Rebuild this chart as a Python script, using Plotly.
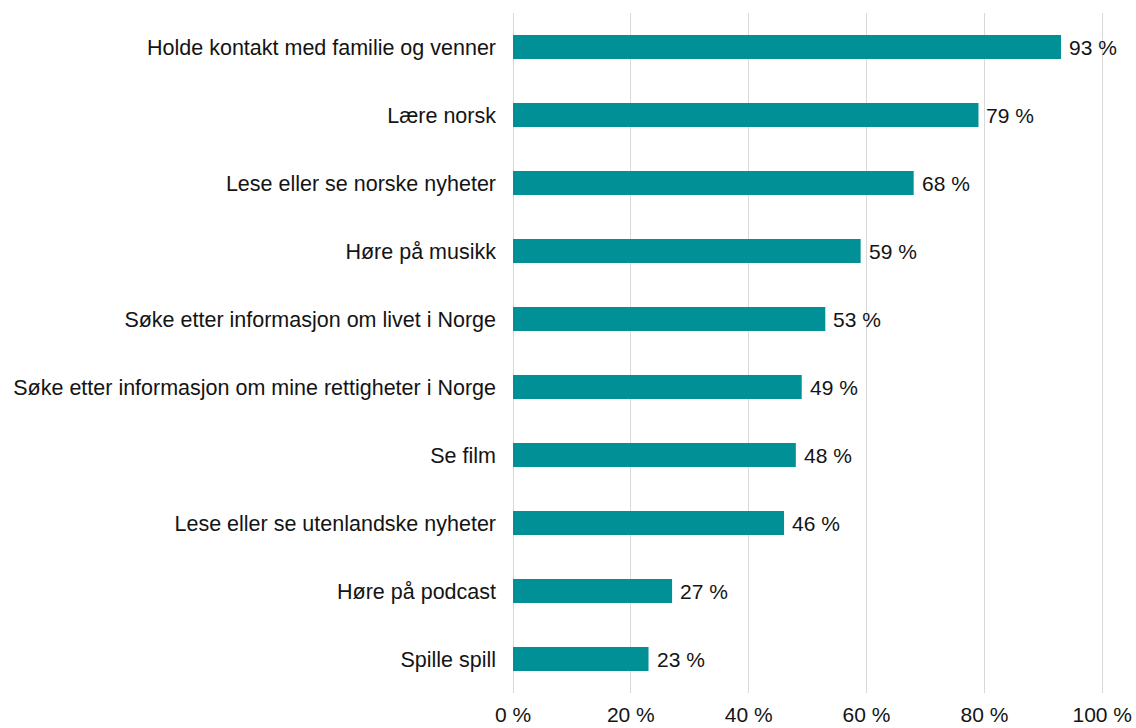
import plotly.graph_objects as go

categories = [
    "Holde kontakt med familie og venner",
    "Lære norsk",
    "Lese eller se norske nyheter",
    "Høre på musikk",
    "Søke etter informasjon om livet i Norge",
    "Søke etter informasjon om mine rettigheter i Norge",
    "Se film",
    "Lese eller se utenlandske nyheter",
    "Høre på podcast",
    "Spille spill",
]
values = [93, 79, 68, 59, 53, 49, 48, 46, 27, 23]
tick_vals = [0, 20, 40, 60, 80, 100]
tick_text = [f"{v} %" for v in tick_vals]

FONT = "Liberation Sans, Arial, Helvetica, sans-serif"
TXT = "#141414"

fig = go.Figure(
    go.Bar(
        x=values,
        y=categories,
        orientation="h",
        marker=dict(color="#009096", line=dict(width=0)),
        width=0.35,
        hoverinfo="x+y",
    )
)

for c, v in zip(categories, values):
    fig.add_annotation(
        x=v, y=c, text=f"{v} %", showarrow=False,
        xanchor="left", xshift=6,
        font=dict(size=21, color=TXT, family=FONT),
    )

fig.update_layout(
    width=1136,
    height=728,
    margin=dict(l=513, r=32, t=13, b=35),
    plot_bgcolor="white",
    paper_bgcolor="white",
    font=dict(family=FONT, size=21, color=TXT),
    showlegend=False,
    xaxis=dict(
        range=[0, 100.3],
        tickvals=tick_vals,
        ticktext=tick_text,
        showgrid=True,
        gridcolor="#d9d9d9",
        gridwidth=1,
        zeroline=True,
        zerolinecolor="#d9d9d9",
        zerolinewidth=1,
        showline=False,
        ticks="",
        ticklabelstandoff=7,
        tickfont=dict(size=21),
        automargin=False,
    ),
    yaxis=dict(
        autorange="reversed",
        showgrid=False,
        zeroline=False,
        showline=False,
        ticks="",
        ticklabelstandoff=16,
        tickfont=dict(size=21.5),
        automargin=False,
    ),
)

fig.write_html("out.html")
